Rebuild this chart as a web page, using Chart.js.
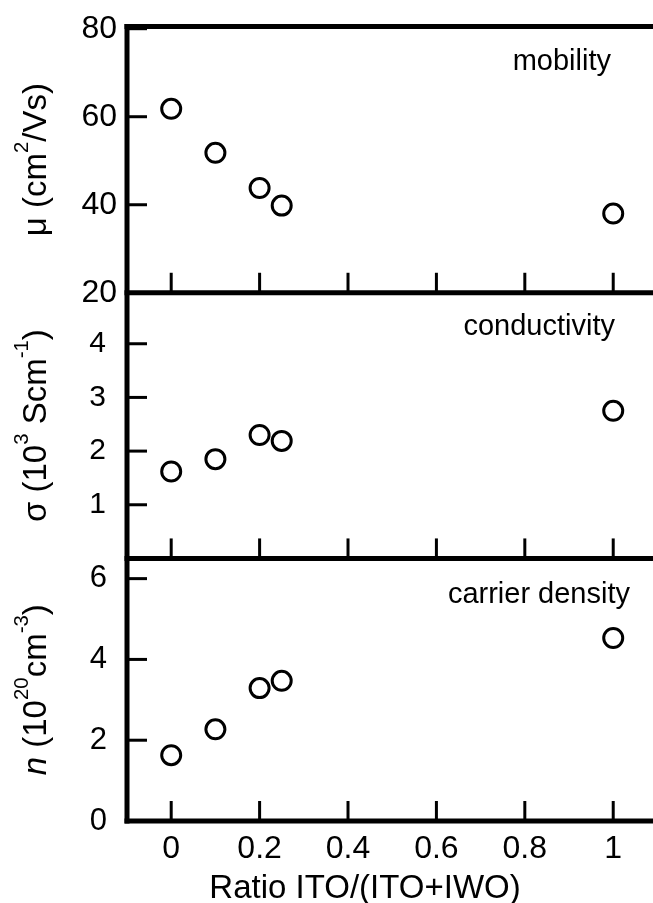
<!DOCTYPE html>
<html>
<head>
<meta charset="utf-8">
<script src="https://cdn.jsdelivr.net/npm/chart.js@4/dist/chart.umd.min.js"></script>
<style>
  html, body { margin: 0; padding: 0; background: #fff; overflow: hidden; }
  canvas { display: block; }
</style>
</head>
<body>
<canvas id="film" width="653" height="903"></canvas>
<script>
const FONT = '"Liberation Sans", Arial, Helvetica, sans-serif';

// measured films, ratio ITO/(ITO+IWO)
const ratio = [0, 0.1, 0.2, 0.25, 1];
const mobility = [61.8, 51.8, 43.8, 39.8, 38.0];        // cm2/Vs
const conductivity = [1.62, 1.85, 2.30, 2.19, 2.75];    // 10^3 S/cm
const carrierDensity = [1.63, 2.27, 3.29, 3.47, 4.53];  // 10^20 cm^-3

const ratioTicks = [0, 0.2, 0.4, 0.6, 0.8, 1];
const mobilityTicks = [20, 40, 60, 80];
const conductivityTicks = [1, 2, 3, 4];
const densityTicks = [0, 1, 2, 3, 4, 5, 6];

const pts = (ys) => ratio.map((x, i) => ({x: x, y: ys[i]}));

const circle = {
  showLine: false,
  pointStyle: 'circle',
  pointRadius: 9.5,
  pointBorderWidth: 3,
  pointBorderColor: '#000',
  pointBackgroundColor: '#fff'
};

function useTicks(list) {
  return (scale) => { scale.ticks = list.map(v => ({value: v})); };
}

// fixed axis size, and no extra room for the end labels
function fixSize(w, h) {
  return (s) => {
    if (w) s.width = w;
    if (h) s.height = h;
    s.paddingTop = s.paddingBottom = s.paddingLeft = s.paddingRight = 0;
  };
}

// panel frames and inward tick marks
const framePlugin = {
  id: 'frame',
  afterDraw(chart) {
    const {ctx, chartArea: a, scales} = chart;
    const panels = [scales.yMu, scales.ySig, scales.yN];
    const line = (x1, y1, x2, y2) => {
      ctx.beginPath(); ctx.moveTo(x1, y1); ctx.lineTo(x2, y2); ctx.stroke();
    };
    ctx.save();
    ctx.strokeStyle = '#000';
    ctx.lineWidth = 3;
    panels.forEach(s => {
      s.ticks.forEach(t => {
        if (t.value === s.min) return;
        const y = s.getPixelForValue(t.value);
        line(a.left, y, a.left + 20, y);
      });
      scales.x.ticks.forEach(t => {
        const x = scales.x.getPixelForValue(t.value);
        line(x, s.bottom, x, s.bottom - 20);
      });
    });
    ctx.lineWidth = 5;
    line(a.left, a.top - 2.5, a.left, a.bottom + 2.5);
    panels.forEach(s => line(a.left - 2.5, s.top, a.right, s.top));
    line(a.left - 2.5, a.bottom, a.right, a.bottom);
    ctx.restore();
  }
};

// rotated axis titles with superscripts, x title and the panel names
const labelPlugin = {
  id: 'labels',
  afterDraw(chart) {
    const {ctx, scales} = chart;
    const size = 33;
    const fontOf = p => (p.it ? 'italic ' : '') + (p.sup ? size * 0.62 : size) + 'px ' + FONT;
    const rich = (parts, cx, cy) => {
      ctx.save();
      ctx.translate(cx, cy);
      ctx.rotate(-Math.PI / 2);
      ctx.fillStyle = '#000';
      ctx.textBaseline = 'alphabetic';
      ctx.textAlign = 'left';
      let w = 0;
      parts.forEach(p => { ctx.font = fontOf(p); p.w = ctx.measureText(p.t).width; w += p.w; });
      let x = -w / 2;
      parts.forEach(p => {
        ctx.font = fontOf(p);
        ctx.fillText(p.t, x, p.sup ? -size * 0.55 : 0);
        x += p.w;
      });
      ctx.restore();
    };
    const mid = s => (s.top + s.bottom) / 2;
    rich([{t: 'μ (cm'}, {t: '2', sup: true}, {t: '/Vs)'}], 46, mid(scales.yMu));
    rich([{t: 'σ (10'}, {t: '3', sup: true}, {t: ' Scm'}, {t: '-1', sup: true}, {t: ')'}], 46, mid(scales.ySig));
    rich([{t: 'n', it: true}, {t: ' (10'}, {t: '20', sup: true}, {t: 'cm'}, {t: '-3', sup: true}, {t: ')'}], 46, mid(scales.yN));

    ctx.save();
    ctx.fillStyle = '#000';
    ctx.textBaseline = 'alphabetic';
    ctx.font = '33px ' + FONT;
    ctx.textAlign = 'center';
    ctx.fillText('Ratio ITO/(ITO+IWO)', 365, 898);
    ctx.font = '29px ' + FONT;
    ctx.textAlign = 'right';
    ctx.fillText('mobility', 611, scales.yMu.top + 43.5);
    ctx.fillText('conductivity', 615, scales.ySig.top + 42);
    ctx.fillText('carrier density', 630, scales.yN.top + 45);
    ctx.restore();
  }
};

const yAxis = (min, max, weight, ticks, padding, fontSize, cb) => ({
  type: 'linear',
  position: 'left',
  stack: 'panels',
  stackWeight: weight,
  min: min,
  max: max,
  afterBuildTicks: useTicks(ticks),
  afterFit: fixSize(127, 0),
  grid: {display: false, drawTicks: false},
  border: {display: false},
  ticks: {
    color: '#000',
    padding: padding,
    font: {family: FONT, size: fontSize},
    callback: cb
  }
});

new Chart(document.getElementById('film'), {
  type: 'scatter',
  data: {
    datasets: [
      Object.assign({label: 'mobility', data: pts(mobility), yAxisID: 'yMu'}, circle),
      Object.assign({label: 'conductivity', data: pts(conductivity), yAxisID: 'ySig'}, circle),
      Object.assign({label: 'carrier density', data: pts(carrierDensity), yAxisID: 'yN'}, circle)
    ]
  },
  options: {
    responsive: false,
    animation: false,
    devicePixelRatio: 1,
    layout: {autoPadding: false, padding: {top: 26.5, right: 0, bottom: 0, left: 0}},
    plugins: {legend: {display: false}, tooltip: {enabled: false}},
    scales: {
      x: {
        type: 'linear',
        position: 'bottom',
        min: -0.1,
        max: 1.09,
        afterBuildTicks: useTicks(ratioTicks),
        afterFit: fixSize(0, 82),
        grid: {display: false, drawTicks: false},
        border: {display: false},
        ticks: {
          color: '#000',
          padding: 9,
          maxRotation: 0,
          font: {family: FONT, size: 32},
          callback: v => String(v)
        }
      },
      // last stacked axis is placed on top
      yN: yAxis(0, 6.5, 262.6, densityTicks, 20, 31, v => (v % 2 === 0 ? String(v) : '')),
      ySig: yAxis(0, 4.95, 265.7, conductivityTicks, 21, 30, v => String(v)),
      yMu: yAxis(20, 80.5, 266.3, mobilityTicks, 10, 32, v => String(v))
    }
  },
  plugins: [framePlugin, labelPlugin]
});
</script>
</body>
</html>
